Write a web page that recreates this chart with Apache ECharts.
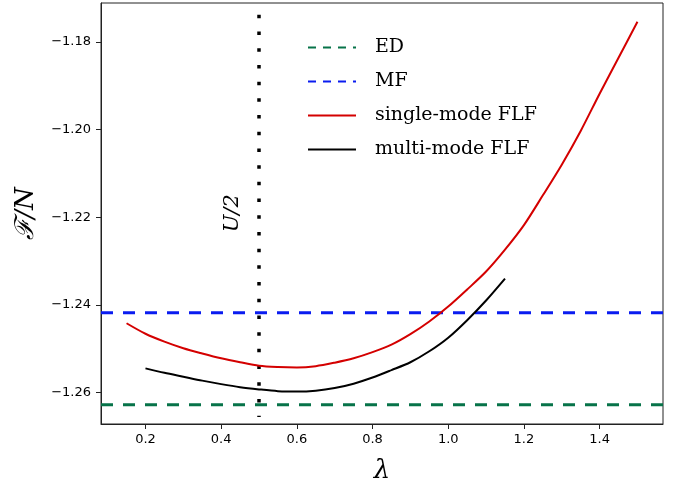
<!DOCTYPE html>
<html>
  <head>
    <meta charset="UTF-8" />
    <title>Free energy vs lambda</title>
    <style>
      html, body { margin: 0; padding: 0; background: #fff; }
      #chart { width: 679px; height: 487px; }
    </style>
    <script type="text/javascript" src="https://cdn.jsdelivr.net/npm/echarts@6/dist/echarts.min.js"></script>
  </head>
  <body>
    <div id="chart"></div>
    <script>
      // data
      const lambdaSingle = [0.15, 0.2, 0.25, 0.3, 0.35, 0.4, 0.45, 0.5, 0.55, 0.6, 0.65, 0.7, 0.75, 0.8,
        0.85, 0.9, 0.95, 1.0, 1.05, 1.1, 1.15, 1.2, 1.25, 1.3, 1.35, 1.4, 1.45, 1.5];
      const singleMode = [-1.2442, -1.2466, -1.2484, -1.2499, -1.2511, -1.2522, -1.2531, -1.2539, -1.2542,
        -1.2543, -1.2540, -1.2532, -1.2522, -1.2508, -1.2491, -1.2467, -1.2438, -1.2404, -1.2365, -1.2324,
        -1.2274, -1.2218, -1.2150, -1.2080, -1.2003, -1.1918, -1.1836, -1.1754];

      const lambdaMulti = [0.2, 0.25, 0.3, 0.35, 0.4, 0.45, 0.5, 0.55, 0.6, 0.65, 0.7, 0.75, 0.8, 0.85,
        0.9, 0.95, 1.0, 1.05, 1.1, 1.15];
      const multiMode = [-1.2545, -1.2555, -1.2564, -1.2573, -1.2581, -1.2588, -1.2593, -1.2597, -1.2598,
        -1.2596, -1.2590, -1.2580, -1.2566, -1.2549, -1.2531, -1.2506, -1.2475, -1.2435, -1.2390, -1.2340];

      const edValue = -1.2628;
      const mfValue = -1.2418;
      const halfU = 0.5;
      const halfURange = [-1.1738, -1.2656]; // drawn top to bottom

      const xTicks = [0.2, 0.4, 0.6, 0.8, 1.0, 1.2, 1.4];
      const yTicks = [-1.26, -1.24, -1.22, -1.20, -1.18];
      const xRange = [0.0825, 1.5675];
      const yRange = [-1.2672, -1.1711];

      const chart = echarts.init(document.getElementById('chart'));

      const pairs = (xs, ys) => xs.map((x, i) => [x, ys[i]]);
      const hline = (v) => [[xRange[0], v], [xRange[1], v]];

      const tickFont = { fontFamily: 'DejaVu Sans', fontSize: 13, color: '#000' };
      const legendDash = [8, 7];

      chart.setOption({
        animation: false,
        backgroundColor: '#fff',
        grid: {
          left: 101, right: 16, top: 3, bottom: 63,
          outerBoundsMode: 'none',
          show: true, borderColor: '#222', borderWidth: 1
        },
        legend: {
          orient: 'vertical',
          left: 302, top: 33,
          itemWidth: 48, itemHeight: 14, itemGap: 15,
          itemStyle: { opacity: 0 },
          data: [
            { name: 'ED', lineStyle: { type: legendDash } },
            { name: 'MF', lineStyle: { type: legendDash } },
            'single-mode FLF',
            'multi-mode FLF'
          ],
          textStyle: { fontFamily: 'DejaVu Serif', fontSize: 19, color: '#000', padding: [0, 0, 0, 14] }
        },
        xAxis: {
          type: 'value',
          min: xRange[0], max: xRange[1],
          name: 'λ',
          nameLocation: 'middle',
          nameGap: 34,
          nameTextStyle: { fontFamily: 'DejaVu Serif', fontStyle: 'italic', fontSize: 26, color: '#000' },
          axisLine: { show: true, lineStyle: { color: '#222', width: 1 } },
          axisTick: { show: true, inside: false, length: 5, customValues: xTicks, lineStyle: { color: '#222' } },
          axisLabel: Object.assign({ margin: 9, customValues: xTicks, formatter: v => v.toFixed(1) }, tickFont),
          splitLine: { show: false }
        },
        yAxis: {
          type: 'value',
          min: yRange[0], max: yRange[1],
          name: 'ℱ/N',
          nameLocation: 'middle',
          nameGap: 62,
          nameRotate: 90,
          nameTextStyle: { fontFamily: 'DejaVu Serif', fontStyle: 'italic', fontSize: 26, color: '#000' },
          axisLine: { show: true, lineStyle: { color: '#222', width: 1 } },
          axisTick: { show: true, inside: false, length: 5, customValues: yTicks, lineStyle: { color: '#222' } },
          axisLabel: Object.assign({
            margin: 10, customValues: yTicks,
            formatter: v => v.toFixed(2).replace('-', '\u2212')
          }, tickFont),
          splitLine: { show: false }
        },
        series: [
          {
            name: 'U/2', type: 'line', symbol: 'none', silent: true,
            data: [[halfU, halfURange[0]], [halfU, halfURange[1]]],
            lineStyle: { color: '#000', width: 3.5, type: [3.5, 13.2], cap: 'butt' }
          },
          {
            name: 'ED', type: 'line', symbol: 'none',
            data: hline(edValue),
            lineStyle: { color: '#077349', width: 3, type: [12, 10] }
          },
          {
            name: 'MF', type: 'line', symbol: 'none',
            data: hline(mfValue),
            lineStyle: { color: '#0a1cf0', width: 3, type: [12, 10] }
          },
          {
            name: 'single-mode FLF', type: 'line', symbol: 'none', smooth: 0.3,
            data: pairs(lambdaSingle, singleMode),
            lineStyle: { color: '#d40000', width: 2 }
          },
          {
            name: 'multi-mode FLF', type: 'line', symbol: 'none', smooth: 0.3,
            data: pairs(lambdaMulti, multiMode),
            lineStyle: { color: '#000', width: 2 }
          }
        ]
      });

      // rotated annotation next to the dotted line
      const p = chart.convertToPixel({ gridIndex: 0 }, [0.4296, -1.2191]);
      chart.setOption({
        graphic: [{
          type: 'text',
          x: p[0], y: p[1],
          rotation: Math.PI / 2,
          style: {
            text: 'U/2',
            fontFamily: 'DejaVu Serif', fontStyle: 'italic', fontSize: 21,
            fill: '#000', align: 'center', verticalAlign: 'middle'
          }
        }]
      });
    </script>
  </body>
</html>
